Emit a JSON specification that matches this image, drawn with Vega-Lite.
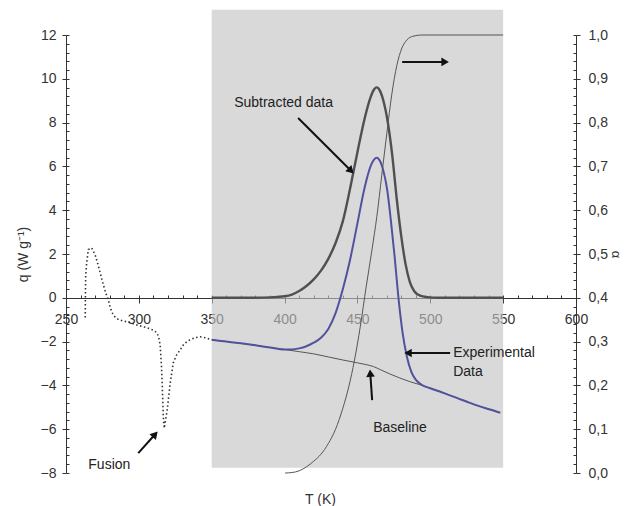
{
  "$schema": "https://vega.github.io/schema/vega-lite/v6.json",
  "width": 510,
  "height": 438,
  "autosize": "none",
  "padding": {"left": 66, "top": 35, "right": 56, "bottom": 33},
  "background": "white",
  "config": {
    "font": "Liberation Sans",
    "view": {"stroke": null},
    "axis": {
      "labelFont": "Liberation Sans",
      "titleFont": "Liberation Sans",
      "labelFontSize": 14,
      "titleFontSize": 14,
      "titleFontWeight": "normal",
      "labelColor": "#333",
      "titleColor": "#333",
      "tickColor": "#333",
      "domainColor": "#333",
      "grid": false
    }
  },
  "datasets": {
    "region": [{"T1": 350, "T2": 550, "q1": -7.76, "q2": 13.15}],
    "fusion": [
      {"T": 263.2, "q": -0.9}, {"T": 263.3, "q": 0}, {"T": 263.5, "q": 1.0}, {"T": 264.2, "q": 1.6},
      {"T": 265.3, "q": 2.2}, {"T": 267.6, "q": 2.28}, {"T": 270, "q": 1.96}, {"T": 272.4, "q": 1.42},
      {"T": 274.7, "q": 0.82}, {"T": 277, "q": 0.27}, {"T": 279, "q": -0.09}, {"T": 280.4, "q": -0.46},
      {"T": 282.5, "q": -0.8}, {"T": 286, "q": -1.0}, {"T": 292, "q": -1.1}, {"T": 299, "q": -1.25},
      {"T": 305.6, "q": -1.37}, {"T": 310, "q": -1.48}, {"T": 312.5, "q": -1.6}, {"T": 314, "q": -1.9},
      {"T": 314.7, "q": -2.24}, {"T": 315.5, "q": -3.1}, {"T": 316, "q": -3.9}, {"T": 316.8, "q": -5.45},
      {"T": 317.4, "q": -5.95}, {"T": 318.3, "q": -5.6}, {"T": 319.5, "q": -5.1}, {"T": 321.5, "q": -3.9},
      {"T": 323.6, "q": -2.97}, {"T": 326, "q": -2.6}, {"T": 328.4, "q": -2.37}, {"T": 331, "q": -2.1},
      {"T": 335, "q": -1.92}, {"T": 338.5, "q": -1.82}, {"T": 342, "q": -1.78}, {"T": 346, "q": -1.83},
      {"T": 350, "q": -1.92}
    ],
    "experimental": [
      {"T": 350, "q": -1.92}, {"T": 360, "q": -2.0}, {"T": 370, "q": -2.08}, {"T": 380, "q": -2.17},
      {"T": 390, "q": -2.27}, {"T": 400, "q": -2.36}, {"T": 405, "q": -2.36}, {"T": 410, "q": -2.31},
      {"T": 415, "q": -2.21}, {"T": 420, "q": -2.05}, {"T": 425, "q": -1.82}, {"T": 430, "q": -1.42},
      {"T": 435, "q": -0.7}, {"T": 440, "q": 0.4}, {"T": 445, "q": 1.75}, {"T": 450, "q": 3.4},
      {"T": 455, "q": 5.05}, {"T": 459, "q": 6.0}, {"T": 461.5, "q": 6.32}, {"T": 463.3, "q": 6.4},
      {"T": 465.5, "q": 6.25}, {"T": 468, "q": 5.75}, {"T": 470.5, "q": 4.9}, {"T": 473, "q": 3.5},
      {"T": 475.5, "q": 1.9}, {"T": 478, "q": 0.1}, {"T": 481, "q": -1.6}, {"T": 484, "q": -2.7},
      {"T": 487, "q": -3.38}, {"T": 490, "q": -3.74}, {"T": 494, "q": -3.97}, {"T": 500, "q": -4.13},
      {"T": 506, "q": -4.27}, {"T": 512, "q": -4.42}, {"T": 518.2, "q": -4.57}, {"T": 526, "q": -4.77},
      {"T": 534, "q": -4.96}, {"T": 541, "q": -5.1}, {"T": 548, "q": -5.25}
    ],
    "baseline": [
      {"T": 350, "q": -1.92}, {"T": 360, "q": -2.0}, {"T": 370, "q": -2.08}, {"T": 380, "q": -2.17},
      {"T": 390, "q": -2.27}, {"T": 400, "q": -2.36}, {"T": 410, "q": -2.46}, {"T": 420, "q": -2.56},
      {"T": 430, "q": -2.7}, {"T": 440, "q": -2.84}, {"T": 450, "q": -2.97}, {"T": 456, "q": -3.05},
      {"T": 461, "q": -3.14}, {"T": 466, "q": -3.29}, {"T": 472, "q": -3.47}, {"T": 479, "q": -3.66},
      {"T": 486, "q": -3.83}, {"T": 493, "q": -3.97}, {"T": 500, "q": -4.13}, {"T": 506, "q": -4.27},
      {"T": 518.2, "q": -4.57}, {"T": 534, "q": -4.96}, {"T": 548, "q": -5.25}
    ],
    "subtracted": [
      {"T": 350, "q": 0}, {"T": 370, "q": 0}, {"T": 385, "q": 0.01}, {"T": 395, "q": 0.04},
      {"T": 400, "q": 0.07}, {"T": 405, "q": 0.15}, {"T": 410, "q": 0.31}, {"T": 415, "q": 0.54},
      {"T": 420, "q": 0.84}, {"T": 425, "q": 1.24}, {"T": 430, "q": 1.78}, {"T": 435, "q": 2.5},
      {"T": 440, "q": 3.5}, {"T": 445, "q": 5.0}, {"T": 450, "q": 6.65}, {"T": 455, "q": 8.2},
      {"T": 459, "q": 9.15}, {"T": 461.5, "q": 9.52}, {"T": 463.3, "q": 9.61}, {"T": 465.5, "q": 9.45},
      {"T": 468, "q": 8.95}, {"T": 471, "q": 7.95}, {"T": 474, "q": 6.45}, {"T": 477, "q": 4.5},
      {"T": 480, "q": 2.85}, {"T": 483, "q": 1.55}, {"T": 486, "q": 0.72}, {"T": 489, "q": 0.3},
      {"T": 493, "q": 0.1}, {"T": 498, "q": 0.03}, {"T": 505, "q": 0}, {"T": 550, "q": 0}
    ],
    "alpha": [
      {"T": 400.4, "a": 0}, {"T": 405, "a": 0.001}, {"T": 410, "a": 0.005}, {"T": 415, "a": 0.014},
      {"T": 420, "a": 0.027}, {"T": 425, "a": 0.043}, {"T": 430, "a": 0.067}, {"T": 435, "a": 0.1},
      {"T": 440, "a": 0.148}, {"T": 444, "a": 0.196}, {"T": 448, "a": 0.258}, {"T": 452, "a": 0.335},
      {"T": 456, "a": 0.425}, {"T": 460, "a": 0.51}, {"T": 463.3, "a": 0.585}, {"T": 466.7, "a": 0.68},
      {"T": 470.2, "a": 0.776}, {"T": 473.6, "a": 0.865}, {"T": 477, "a": 0.93}, {"T": 480.5, "a": 0.97},
      {"T": 484, "a": 0.989}, {"T": 488, "a": 0.997}, {"T": 494, "a": 1.0}, {"T": 550, "a": 1.0}
    ],
    "labels": [
      {"text": "Subtracted data", "T": 365.4, "q": 8.9},
      {"text": "Experimental", "T": 515.7, "q": -2.52},
      {"text": "Data", "T": 515.7, "q": -3.39},
      {"text": "Baseline", "T": 460.8, "q": -5.95},
      {"text": "Fusion", "T": 265.3, "q": -7.63}
    ],
    "arrows": [
      {"T": 409.3, "q": 8.21, "T2": 445.6, "q2": 5.8, "dir": 135},
      {"T": 480.7, "q": 10.77, "T2": 510.2, "q2": 10.77, "dir": 90},
      {"T": 513.6, "q": -2.52, "T2": 484.7, "q2": -2.52, "dir": 270},
      {"T": 460.1, "q": -4.67, "T2": 458.8, "q2": -3.44, "dir": -4},
      {"T": 299.6, "q": -7.09, "T2": 311.2, "q2": -6.23, "dir": 42}
    ]
  },
  "resolve": {
    "scale": {"y": "independent"},
    "axis": {"x": "independent", "y": "independent"}
  },
  "layer": [
    {
      "data": {"name": "region"},
      "mark": {"type": "rect", "fill": "#c2c2c2", "opacity": 0.62},
      "encoding": {
        "x": {
          "field": "T1", "type": "quantitative",
          "scale": {"domain": [250, 600], "nice": false, "zero": false},
          "axis": {
            "orient": "bottom", "offset": -175,
            "values": [250, 300, 350, 400, 450, 500, 550, 600],
            "tickSize": 5, "labelPadding": 9, "labelFlush": false, "labelOverlap": false,
            "title": "T (K)", "titleX": 254, "titleY": 201, "titleAlign": "center",
            "titleBaseline": "middle", "titleAnchor": null
          }
        },
        "x2": {"field": "T2"},
        "y": {
          "field": "q1", "type": "quantitative",
          "scale": {"domain": [-8, 12], "nice": false, "zero": false},
          "axis": {
            "orient": "left",
            "values": [-8, -6, -4, -2, 0, 2, 4, 6, 8, 10, 12],
            "tickSize": 4, "labelPadding": 6, "labelFlush": false, "labelOverlap": false,
            "title": "q (W g⁻¹)", "titleX": -43, "titleY": 219, "titleAngle": -90,
            "titleAlign": "center", "titleBaseline": "middle"
          }
        },
        "y2": {"field": "q2"}
      }
    },
    {
      "data": {"name": "fusion"},
      "mark": {"type": "line", "color": "#333", "strokeWidth": 1.6, "strokeDash": [1.5, 2.5], "interpolate": "linear"},
      "encoding": {
        "x": {
          "field": "T", "type": "quantitative",
          "scale": {"domain": [250, 600], "nice": false, "zero": false},
          "axis": {
            "orient": "bottom", "offset": -175,
            "values": [250, 260, 270, 280, 290, 300, 310, 320, 330, 340, 350, 360, 370, 380, 390, 400, 410, 420, 430, 440, 450, 460, 470, 480, 490, 500, 510, 520, 530, 540, 550, 560, 570, 580, 590, 600],
            "tickSize": -3, "labels": false, "domain": false, "title": null
          }
        },
        "y": {
          "field": "q", "type": "quantitative",
          "scale": {"domain": [-8, 12], "nice": false, "zero": false},
          "axis": {
            "orient": "left",
            "values": [-8, -7.6, -7.2, -6.8, -6.4, -6, -5.6, -5.2, -4.8, -4.4, -4, -3.6, -3.2, -2.8, -2.4, -2, -1.6, -1.2, -0.8, -0.4, 0, 0.4, 0.8, 1.2, 1.6, 2, 2.4, 2.8, 3.2, 3.6, 4, 4.4, 4.8, 5.2, 5.6, 6, 6.4, 6.8, 7.2, 7.6, 8, 8.4, 8.8, 9.2, 9.6, 10, 10.4, 10.8, 11.2, 11.6, 12],
            "tickSize": -3, "labels": false, "domain": false, "title": null
          }
        },
        "order": {"value": 0}
      }
    },
    {
      "data": {"name": "baseline"},
      "mark": {"type": "line", "color": "#555", "strokeWidth": 1, "interpolate": "monotone"},
      "encoding": {
        "x": {"field": "T", "type": "quantitative", "scale": {"domain": [250, 600], "nice": false, "zero": false}, "axis": null},
        "y": {"field": "q", "type": "quantitative", "scale": {"domain": [-8, 12], "nice": false, "zero": false}, "axis": null}
      }
    },
    {
      "data": {"name": "subtracted"},
      "mark": {"type": "line", "color": "#505050", "strokeWidth": 2.4, "interpolate": "monotone"},
      "encoding": {
        "x": {"field": "T", "type": "quantitative", "scale": {"domain": [250, 600], "nice": false, "zero": false}, "axis": null},
        "y": {"field": "q", "type": "quantitative", "scale": {"domain": [-8, 12], "nice": false, "zero": false}, "axis": null}
      }
    },
    {
      "data": {"name": "experimental"},
      "mark": {"type": "line", "color": "#52529c", "strokeWidth": 2, "interpolate": "monotone"},
      "encoding": {
        "x": {"field": "T", "type": "quantitative", "scale": {"domain": [250, 600], "nice": false, "zero": false}, "axis": null},
        "y": {"field": "q", "type": "quantitative", "scale": {"domain": [-8, 12], "nice": false, "zero": false}, "axis": null}
      }
    },
    {
      "data": {"name": "alpha"},
      "mark": {"type": "line", "color": "#555", "strokeWidth": 1, "interpolate": "monotone"},
      "encoding": {
        "x": {"field": "T", "type": "quantitative", "scale": {"domain": [250, 600], "nice": false, "zero": false}, "axis": null},
        "y": {
          "field": "a", "type": "quantitative",
          "scale": {"domain": [0, 1], "nice": false, "zero": false},
          "axis": {
            "orient": "right",
            "values": [0, 0.1, 0.2, 0.3, 0.4, 0.5, 0.6, 0.7, 0.8, 0.9, 1.0],
            "labelExpr": "replace(format(datum.value, '.1f'), '.', ',')",
            "tickSize": 4, "labelPadding": 8, "labelFlush": false, "labelOverlap": false,
            "title": "α", "titleX": 39, "titleY": 219, "titleAngle": 90,
            "titleAlign": "center", "titleBaseline": "middle", "titleFontSize": 13
          }
        }
      }
    },
    {
      "data": {"name": "alpha"},
      "mark": {"type": "line", "color": "#555", "strokeWidth": 1, "strokeOpacity": 0},
      "encoding": {
        "x": {"field": "T", "type": "quantitative", "scale": {"domain": [250, 600], "nice": false, "zero": false}, "axis": null},
        "y": {
          "field": "a", "type": "quantitative",
          "scale": {"domain": [0, 1], "nice": false, "zero": false},
          "axis": {
            "orient": "right",
            "values": [0, 0.02, 0.04, 0.06, 0.08, 0.1, 0.12, 0.14, 0.16, 0.18, 0.2, 0.22, 0.24, 0.26, 0.28, 0.3, 0.32, 0.34, 0.36, 0.38, 0.4, 0.42, 0.44, 0.46, 0.48, 0.5, 0.52, 0.54, 0.56, 0.58, 0.6, 0.62, 0.64, 0.66, 0.68, 0.7, 0.72, 0.74, 0.76, 0.78, 0.8, 0.82, 0.84, 0.86, 0.88, 0.9, 0.92, 0.94, 0.96, 0.98, 1.0],
            "tickSize": -3, "labels": false, "domain": false, "title": null
          }
        }
      }
    },
    {
      "data": {"name": "arrows"},
      "mark": {"type": "rule", "color": "#111", "strokeWidth": 2},
      "encoding": {
        "x": {"field": "T", "type": "quantitative", "scale": {"domain": [250, 600], "nice": false, "zero": false}, "axis": null},
        "x2": {"field": "T2"},
        "y": {"field": "q", "type": "quantitative", "scale": {"domain": [-8, 12], "nice": false, "zero": false}, "axis": null},
        "y2": {"field": "q2"}
      }
    },
    {
      "data": {"name": "arrows"},
      "mark": {"type": "point", "shape": "triangle-up", "filled": true, "size": 75, "color": "#111", "opacity": 1},
      "encoding": {
        "x": {"field": "T2", "type": "quantitative", "scale": {"domain": [250, 600], "nice": false, "zero": false}, "axis": null},
        "y": {"field": "q2", "type": "quantitative", "scale": {"domain": [-8, 12], "nice": false, "zero": false}, "axis": null},
        "angle": {"field": "dir", "type": "quantitative", "scale": null}
      }
    },
    {
      "data": {"name": "labels"},
      "mark": {"type": "text", "align": "left", "baseline": "middle", "font": "Liberation Sans", "fontSize": 14, "color": "#222"},
      "encoding": {
        "x": {"field": "T", "type": "quantitative", "scale": {"domain": [250, 600], "nice": false, "zero": false}, "axis": null},
        "y": {"field": "q", "type": "quantitative", "scale": {"domain": [-8, 12], "nice": false, "zero": false}, "axis": null},
        "text": {"field": "text"}
      }
    }
  ]
}
